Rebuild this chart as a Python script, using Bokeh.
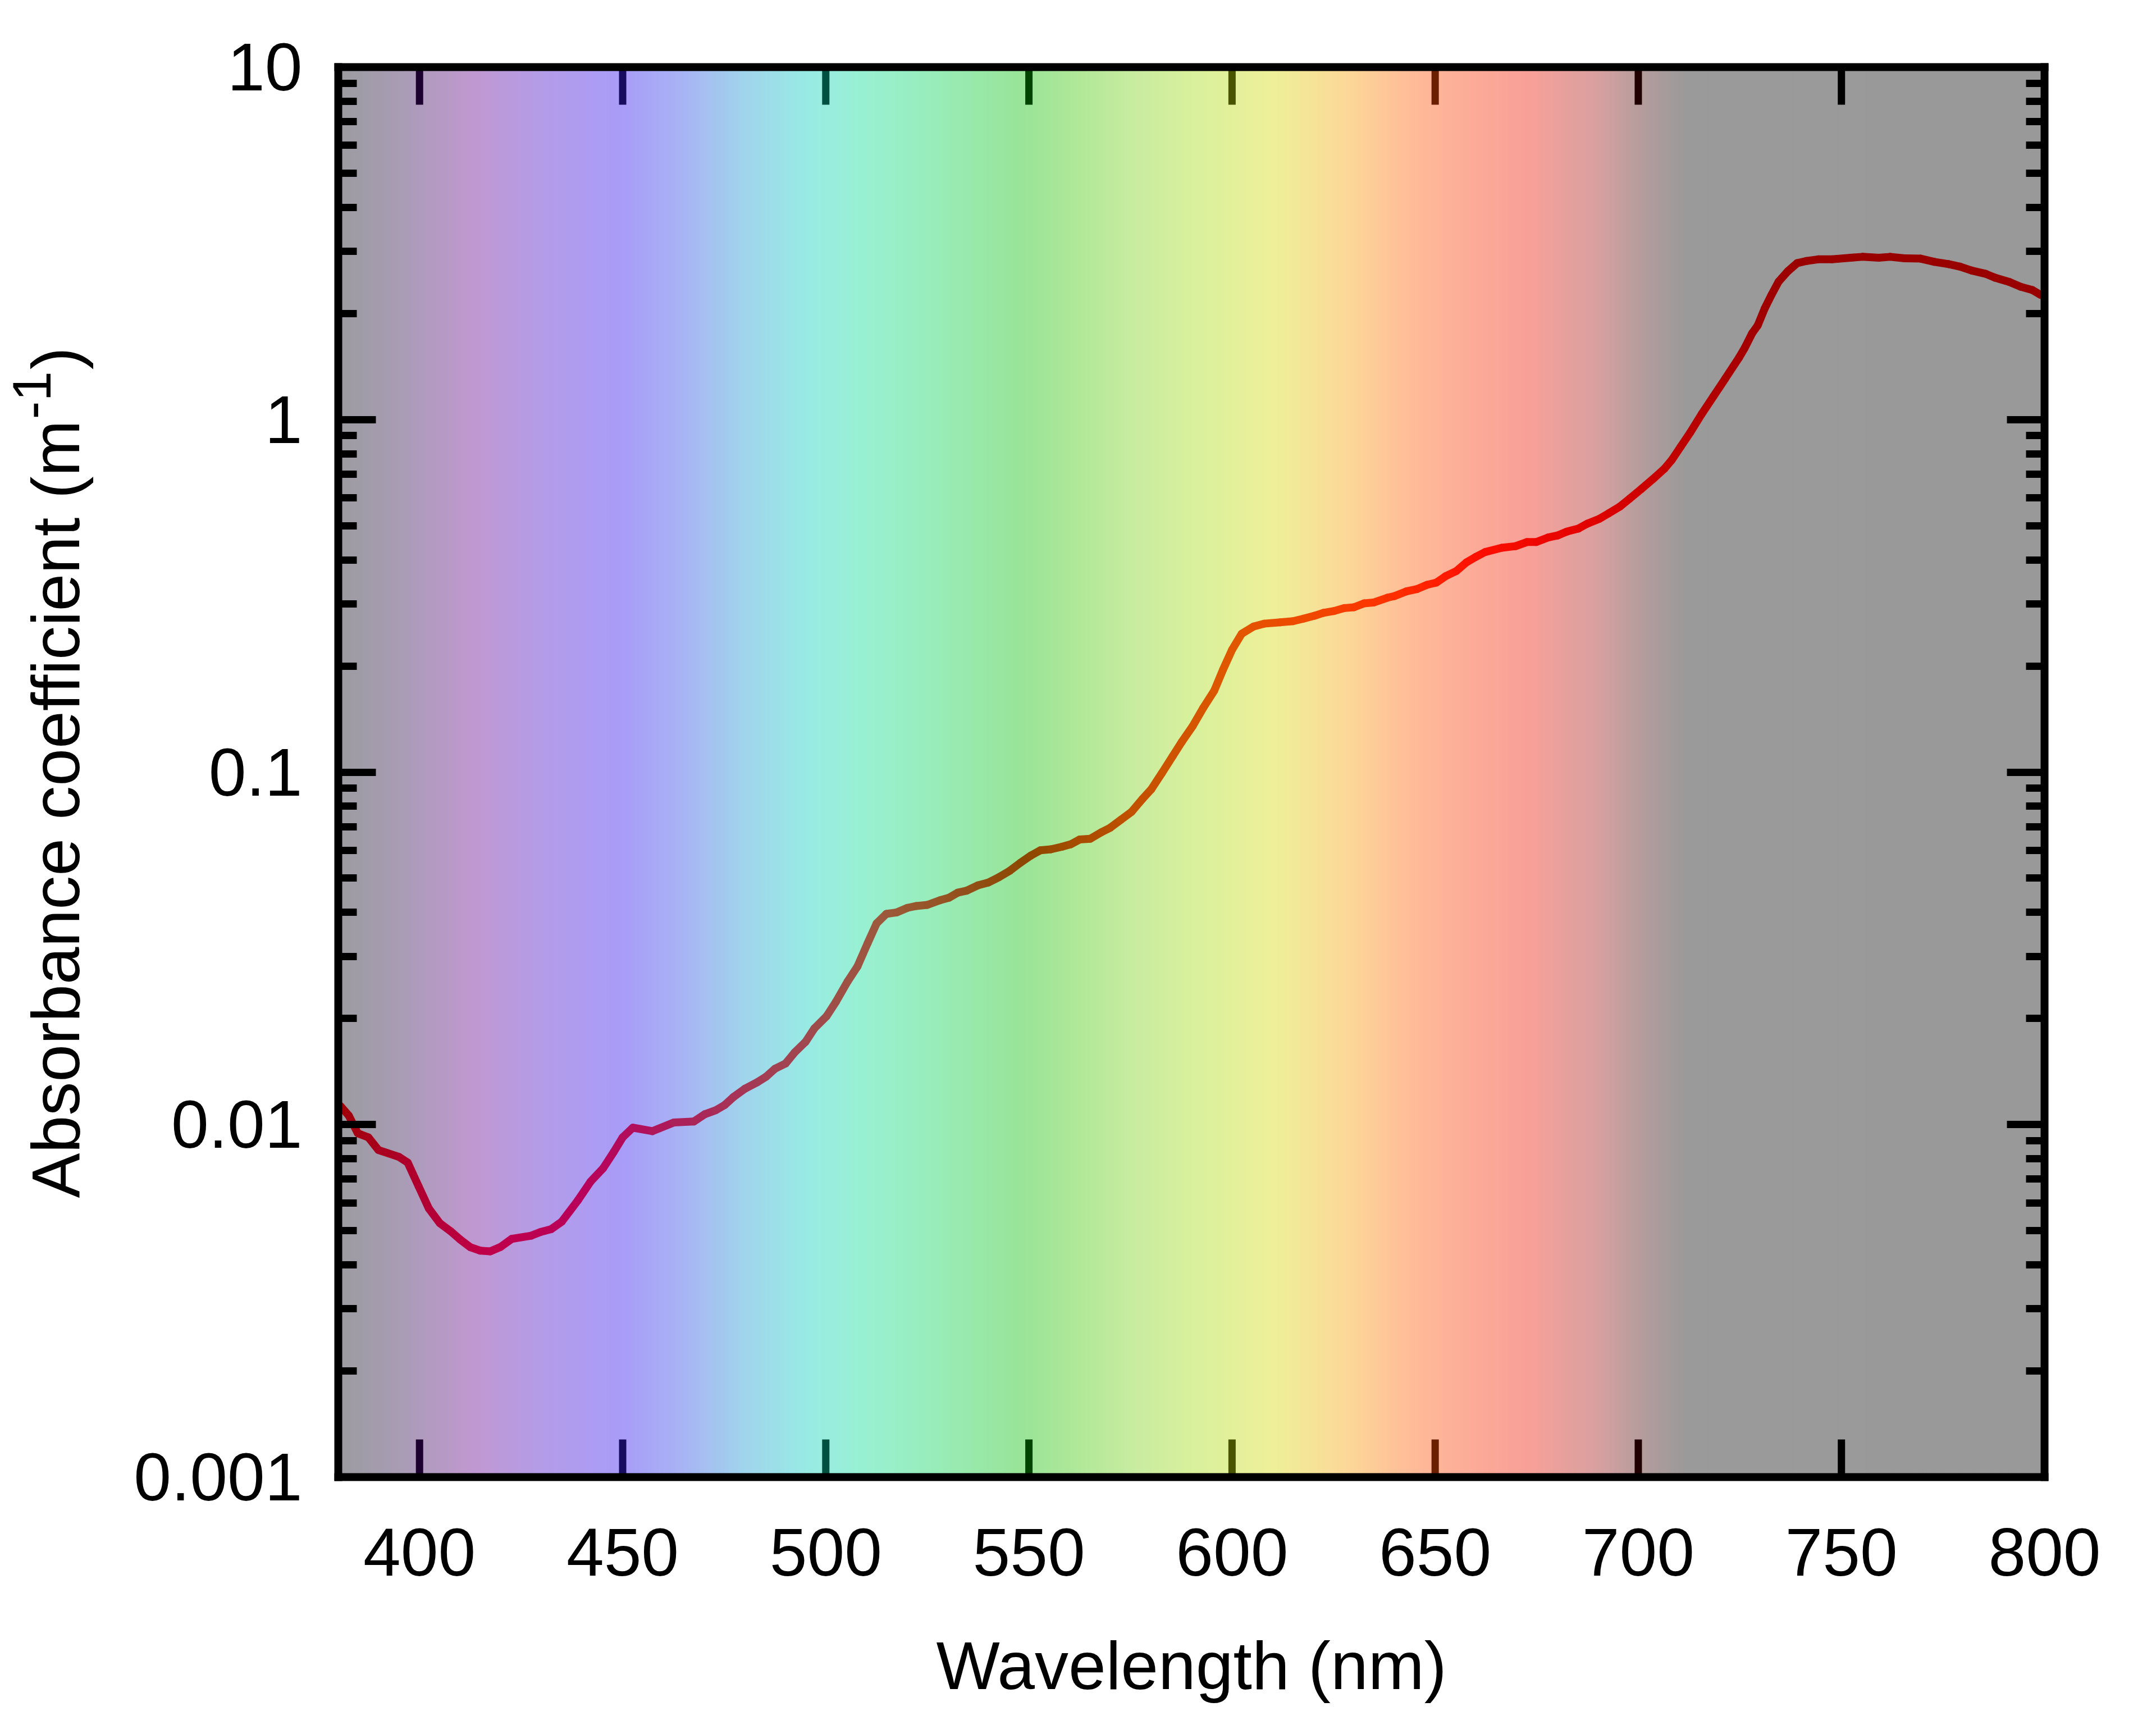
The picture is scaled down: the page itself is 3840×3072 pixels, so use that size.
import numpy as np
from bokeh.plotting import figure
from bokeh.models import FixedTicker, LogAxis, LinearAxis, Label, PrintfTickFormatter
from bokeh.embed import file_html
from bokeh.resources import INLINE

# ---------------- data ----------------
wavelength_nm = [380.5, 382.6, 384.8, 387.4, 389.9, 394.9, 397.1, 399.8, 402.3, 405.0,
                 407.6, 409.9, 412.5, 414.9, 417.4, 420.0, 422.7, 427.5, 429.8, 432.4,
                 435.0, 439.0, 442.1, 445.2, 447.8, 450.0, 452.5, 457.3, 462.6, 467.5,
                 470.2, 472.9, 475.1, 477.3, 480.0, 483.1, 485.3, 487.5, 490.1, 492.3,
                 495.0, 497.2, 500.2, 502.5, 505.4, 507.8, 510.3, 512.5, 514.9, 517.5,
                 520.1, 522.3, 525.0, 528.1, 530.3, 532.5, 534.7, 537.4, 540.0, 542.6,
                 545.3, 547.9, 550.5, 552.8, 555.4, 558.1, 560.3, 562.5, 565.1, 567.8,
                 570.0, 572.6, 575.3, 577.9, 580.1, 582.7, 585.4, 587.6, 590.3, 592.9,
                 595.6, 597.8, 600.0, 602.4, 605.3, 607.9, 611.9, 615.0, 617.6, 620.3,
                 622.5, 625.1, 627.7, 630.0, 632.5, 634.8, 638.3, 640.0, 642.9, 645.5,
                 648.0, 650.3, 652.6, 655.2, 657.7, 660.0, 662.3, 666.4, 669.8, 672.6,
                 674.9, 677.8, 680.1, 682.4, 685.3, 687.5, 690.4, 692.7, 695.5, 697.9,
                 700.7, 703.6, 706.4, 708.2, 710.4, 712.8, 715.6, 718.5, 721.4, 724.8,
                 726.2, 728.0, 729.4, 731.1, 732.8, 734.5, 736.8, 739.1, 741.4, 744.3,
                 747.7, 752.3, 755.2, 759.2, 762.0, 765.5, 769.5, 772.9, 776.4, 779.2,
                 782.1, 785.5, 787.8, 791.3, 794.1, 797.0, 799.0, 800.0]
absorbance = [0.0113, 0.0106, 0.00945, 0.0092, 0.00847, 0.0081, 0.0078, 0.00667, 0.00578, 0.00525,
              0.00499, 0.00473, 0.00449, 0.00439, 0.00437, 0.0045, 0.00474, 0.00484, 0.00496, 0.00505,
              0.0053, 0.0061, 0.00689, 0.00752, 0.00836, 0.0092, 0.0098, 0.00958, 0.01014, 0.0102,
              0.0107, 0.01098, 0.01136, 0.01198, 0.01262, 0.01318, 0.01367, 0.0144, 0.0149, 0.016,
              0.01716, 0.01875, 0.0203, 0.0223, 0.0255, 0.0281, 0.0327, 0.0372, 0.0396, 0.0400,
              0.0412, 0.0417, 0.0420, 0.0433, 0.0440, 0.0455, 0.0461, 0.0477, 0.0486, 0.0503,
              0.0525, 0.0553, 0.0580, 0.0600, 0.0604, 0.0614, 0.0624, 0.0644, 0.0647, 0.0675,
              0.0695, 0.0732, 0.0772, 0.0838, 0.0893, 0.0992, 0.111, 0.1217, 0.135, 0.152,
              0.170, 0.1955, 0.2223, 0.247, 0.2588, 0.2637, 0.266, 0.268, 0.2725, 0.2777,
              0.283, 0.2864, 0.292, 0.2935, 0.301, 0.3027, 0.3126, 0.3158, 0.3256, 0.3305,
              0.3398, 0.3449, 0.3597, 0.3718, 0.3936, 0.408, 0.421, 0.4329, 0.4375, 0.4494,
              0.4494, 0.463, 0.469, 0.481, 0.491, 0.507, 0.523, 0.542, 0.567, 0.597,
              0.635, 0.678, 0.725, 0.767, 0.8366, 0.9197, 1.037, 1.164, 1.307, 1.499,
              1.597, 1.756, 1.850, 2.065, 2.26, 2.459, 2.635, 2.779, 2.819, 2.849,
              2.849, 2.879, 2.896, 2.879, 2.896, 2.868, 2.862, 2.802, 2.761, 2.716,
              2.647, 2.592, 2.527, 2.459, 2.382, 2.332, 2.26, 2.24]

xtick_values = [400, 450, 500, 550, 600, 650, 700, 750, 800]
xtick_labels = ["400", "450", "500", "550", "600", "650", "700", "750", "800"]
ytick_values = [0.001, 0.01, 0.1, 1, 10]
ytick_labels = ["0.001", "0.01", "0.1", "1", "10"]

tick_mark_nm = [400, 450, 500, 550, 600, 650, 700, 750]
tick_mark_colors = ["#1c0030", "#180c60", "#005040", "#004400",
                    "#485400", "#6a2000", "#200000", "#000000"]

bg_stop_nm = [380, 395, 413, 430, 450, 465, 480, 495, 508, 522, 548, 562, 576,
              590, 610, 628, 644, 660, 673, 690, 701, 712, 800]
bg_stop_colors = ["#9c9ca0", "#a89cb4", "#c098d0", "#b49ce8", "#a89cf8", "#a8b4f4",
                  "#a0d4ec", "#98eae4", "#98f0d4", "#98eec0", "#98e498", "#b0e898",
                  "#c8eca0", "#d8f09c", "#eef098", "#fcd898", "#ffbc98", "#fcaa98",
                  "#f8a098", "#d8a0a0", "#b49c9c", "#9a9a9a", "#999999"]

line_stop_nm = [380, 400, 417, 440, 455, 475, 495, 515, 550, 575, 600, 620,
                640, 660, 690, 710, 730, 745, 800]
line_stop_colors = ["#a00008", "#b00030", "#c0004a", "#b8005a", "#b0105c", "#a83058",
                    "#a04850", "#9c5a3c", "#8c4800", "#c05000", "#e05800", "#f04800",
                    "#ff3000", "#ff1000", "#e00000", "#c00000", "#a00000", "#990000",
                    "#990000"]

X_RANGE = (380, 800)
Y_RANGE = (0.001, 10)
FONT = "Liberation Sans"

# ---------------- layout ----------------
W, H = 3824, 3056
BL, BR, BT, BB = 602, 183, 119, 426
frame_w = W - BL - BR
frame_h = H - BT - BB
decades = np.log10(Y_RANGE[1]) - np.log10(Y_RANGE[0])
FRAME_LW = 14
TICK_LW = 13
CURVE_LW = 14


def hex_rgb(h):
    h = h.lstrip("#")
    return [int(h[i:i + 2], 16) for i in (0, 2, 4)]


def interp_colors(xq, sx, shex):
    rgb = np.array([hex_rgb(c) for c in shex], dtype=float)
    out = []
    for x in xq:
        r, g, b = (np.interp(x, sx, rgb[:, k]) for k in range(3))
        out.append("#%02x%02x%02x" % (int(round(r)), int(round(g)), int(round(b))))
    return out


def px_x(px):
    return float(X_RANGE[0] + (px - BL) / frame_w * (X_RANGE[1] - X_RANGE[0]))


def px_y(py):
    return float(10 ** (np.log10(Y_RANGE[1]) - (py - BT) / frame_h * decades))


p = figure(width=W, height=H, x_range=X_RANGE, y_range=Y_RANGE, y_axis_type="log",
           output_backend="svg", toolbar_location=None,
           min_border_left=BL, min_border_right=BR, min_border_top=BT, min_border_bottom=BB,
           background_fill_color="white", border_fill_color="white")
p.grid.visible = False
p.outline_line_color = None

# background spectrum strips
step = 1.0
lefts = np.arange(X_RANGE[0], X_RANGE[1], step)
rights = lefts + step * 1.6
strip_colors = interp_colors(lefts + step / 2, bg_stop_nm, bg_stop_colors)
p.quad(left=lefts, right=rights, bottom=Y_RANGE[0], top=Y_RANGE[1],
       fill_color=strip_colors, line_color=None)

# coloured x tick marks (bottom and top, inside)
tick_len_px = 67
fac = 10 ** (tick_len_px * decades / frame_h)
n = len(tick_mark_nm)
p.segment(x0=tick_mark_nm, x1=tick_mark_nm, y0=[Y_RANGE[0]] * n, y1=[Y_RANGE[0] * fac] * n,
          line_color=tick_mark_colors, line_width=TICK_LW)
p.segment(x0=tick_mark_nm, x1=tick_mark_nm, y0=[Y_RANGE[1]] * n, y1=[Y_RANGE[1] / fac] * n,
          line_color=tick_mark_colors, line_width=TICK_LW)

# absorbance curve with wavelength-dependent colour
wl = np.array(wavelength_nm)
ab = np.array(absorbance)
mid = (wl[:-1] + wl[1:]) / 2
seg_colors = interp_colors(mid, line_stop_nm, line_stop_colors)
p.segment(x0=wl[:-1], x1=wl[1:], y0=ab[:-1], y1=ab[1:], line_color=seg_colors,
          line_width=CURVE_LW, line_cap="round")

# x axis (bottom)
xa = p.xaxis[0]
xa.ticker = FixedTicker(ticks=xtick_values)
xa.major_label_overrides = {v: l for v, l in zip(xtick_values, xtick_labels)}
xa.major_tick_line_color = None
xa.minor_tick_line_color = None
xa.axis_line_color = "black"
xa.axis_line_width = FRAME_LW
xa.axis_line_cap = "square"
xa.major_label_text_font = FONT
xa.major_label_text_font_size = "120px"
xa.major_label_text_color = "black"
xa.major_label_standoff = 86
xa.axis_label = "Wavelength (nm)"
xa.axis_label_text_font = FONT
xa.axis_label_text_font_size = "120px"
xa.axis_label_text_font_style = "normal"
xa.axis_label_text_color = "black"
xa.axis_label_standoff = 90

# top frame edge
ta = LinearAxis(ticker=FixedTicker(ticks=[]), axis_line_color="black",
                axis_line_width=FRAME_LW, axis_line_cap="square",
                major_tick_line_color=None, minor_tick_line_color=None)
p.add_layout(ta, "above")

minor = [m * 10.0 ** e for e in range(-3, 1) for m in range(2, 10)]


def style_y(ax, labels=True):
    ax.ticker = FixedTicker(ticks=ytick_values, minor_ticks=minor)
    ax.axis_line_color = "black"
    ax.axis_line_width = FRAME_LW
    ax.axis_line_cap = "square"
    ax.major_tick_in = 67
    ax.major_tick_out = 0
    ax.minor_tick_in = 33
    ax.minor_tick_out = 0
    ax.major_tick_line_color = "black"
    ax.minor_tick_line_color = "black"
    ax.major_tick_line_width = TICK_LW
    ax.minor_tick_line_width = TICK_LW
    ax.major_tick_line_cap = "butt"
    ax.minor_tick_line_cap = "butt"
    ax.major_label_text_font = FONT
    ax.formatter = PrintfTickFormatter(format="%g")
    ax.major_label_overrides = {v: l for v, l in zip(ytick_values, ytick_labels)}
    if labels:
        ax.major_label_text_font_size = "120px"
        ax.major_label_text_color = "black"
        ax.major_label_standoff = 64
    else:
        ax.major_label_text_font_size = "10px"
        ax.major_label_text_alpha = 0
        ax.major_label_standoff = 0


style_y(p.yaxis[0])
ra = LogAxis()
style_y(ra, labels=False)
p.add_layout(ra, "right")

# y axis title with superscript: main text (with a gap kept by fixed-width spaces
# for the exponent) plus a raised, smaller exponent; placed in the left panel
title_parts = [
    ("Absorbance coefficient (m\u2002\u2005)", 98, 2133, "120px"),
    ("-1", 56, 746, "96px"),
]
for txt, fx, fy, fs in title_parts:
    p.add_layout(Label(x=px_x(fx), y=px_y(fy), text=txt,
                       angle=np.pi / 2, text_align="left", text_baseline="alphabetic",
                       text_font=FONT, text_font_size=fs, text_color="black"), "left")

open("out.html", "w").write(file_html(p, INLINE))
